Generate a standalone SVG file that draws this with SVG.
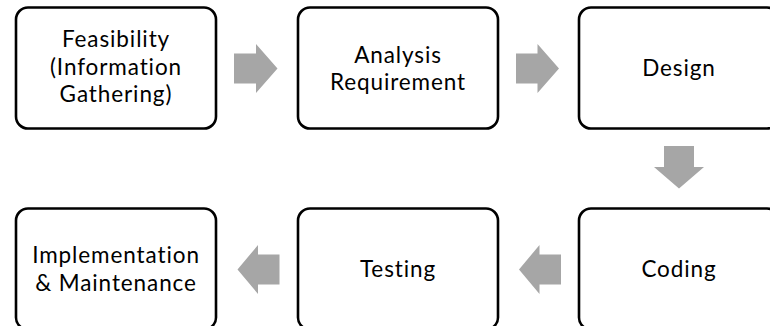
<svg xmlns="http://www.w3.org/2000/svg" width="770" height="326" viewBox="0 0 770 326">
  <style>
    .box { fill: #ffffff; stroke: #000000; stroke-width: 2.6; }
    .label { font-family: Lato, "Open Sans", "Liberation Sans", sans-serif; font-size: 22.5px; letter-spacing: 0.9px; fill: #000000; text-anchor: middle; }
    .flow { fill: #a6a6a6; stroke: none; }
  </style>

  <rect width="770" height="326" fill="#ffffff"/>

  <!-- process steps -->
  <g id="feasibility">
    <rect class="box" x="16" y="7.5" width="200" height="121" rx="12" ry="12"/>
    <text class="label" x="116" y="47">Feasibility</text>
    <text class="label" x="116" y="74.5">(Information</text>
    <text class="label" x="116" y="102">Gathering)</text>
  </g>

  <g id="analysis">
    <rect class="box" x="298" y="7.5" width="200" height="121" rx="12" ry="12"/>
    <text class="label" x="398" y="62.5">Analysis</text>
    <text class="label" x="398" y="90">Requirement</text>
  </g>

  <g id="design">
    <rect class="box" x="579" y="7.5" width="200" height="121" rx="12" ry="12"/>
    <text class="label" x="679" y="76">Design</text>
  </g>

  <g id="coding">
    <rect class="box" x="579" y="208.5" width="200" height="121" rx="12" ry="12"/>
    <text class="label" x="679" y="277">Coding</text>
  </g>

  <g id="testing">
    <rect class="box" x="298" y="208.5" width="200" height="121" rx="12" ry="12"/>
    <text class="label" x="398" y="277">Testing</text>
  </g>

  <g id="implementation">
    <rect class="box" x="16" y="208.5" width="200" height="121" rx="12" ry="12"/>
    <text class="label" x="116" y="263">Implementation</text>
    <text class="label" x="116" y="290.5">&amp; Maintenance</text>
  </g>

  <!-- block arrows between steps -->
  <g id="connectors">
    <polygon class="flow" points="234,53.5 256,53.5 256,44 277.5,68.5 256,93 256,83.5 234,83.5"/>
    <polygon class="flow" points="516,53.5 537.5,53.5 537.5,44 559,68.5 537.5,93 537.5,83.5 516,83.5"/>
    <polygon class="flow" points="664,146 694,146 694,167 704,167 679,188.5 654,167 664,167"/>
    <polygon class="flow" points="561,254.5 539.5,254.5 539.5,245 519,269.5 539.5,294 539.5,284.5 561,284.5"/>
    <polygon class="flow" points="279.5,254.5 258,254.5 258,245 237.5,269.5 258,294 258,284.5 279.5,284.5"/>
  </g>
</svg>
